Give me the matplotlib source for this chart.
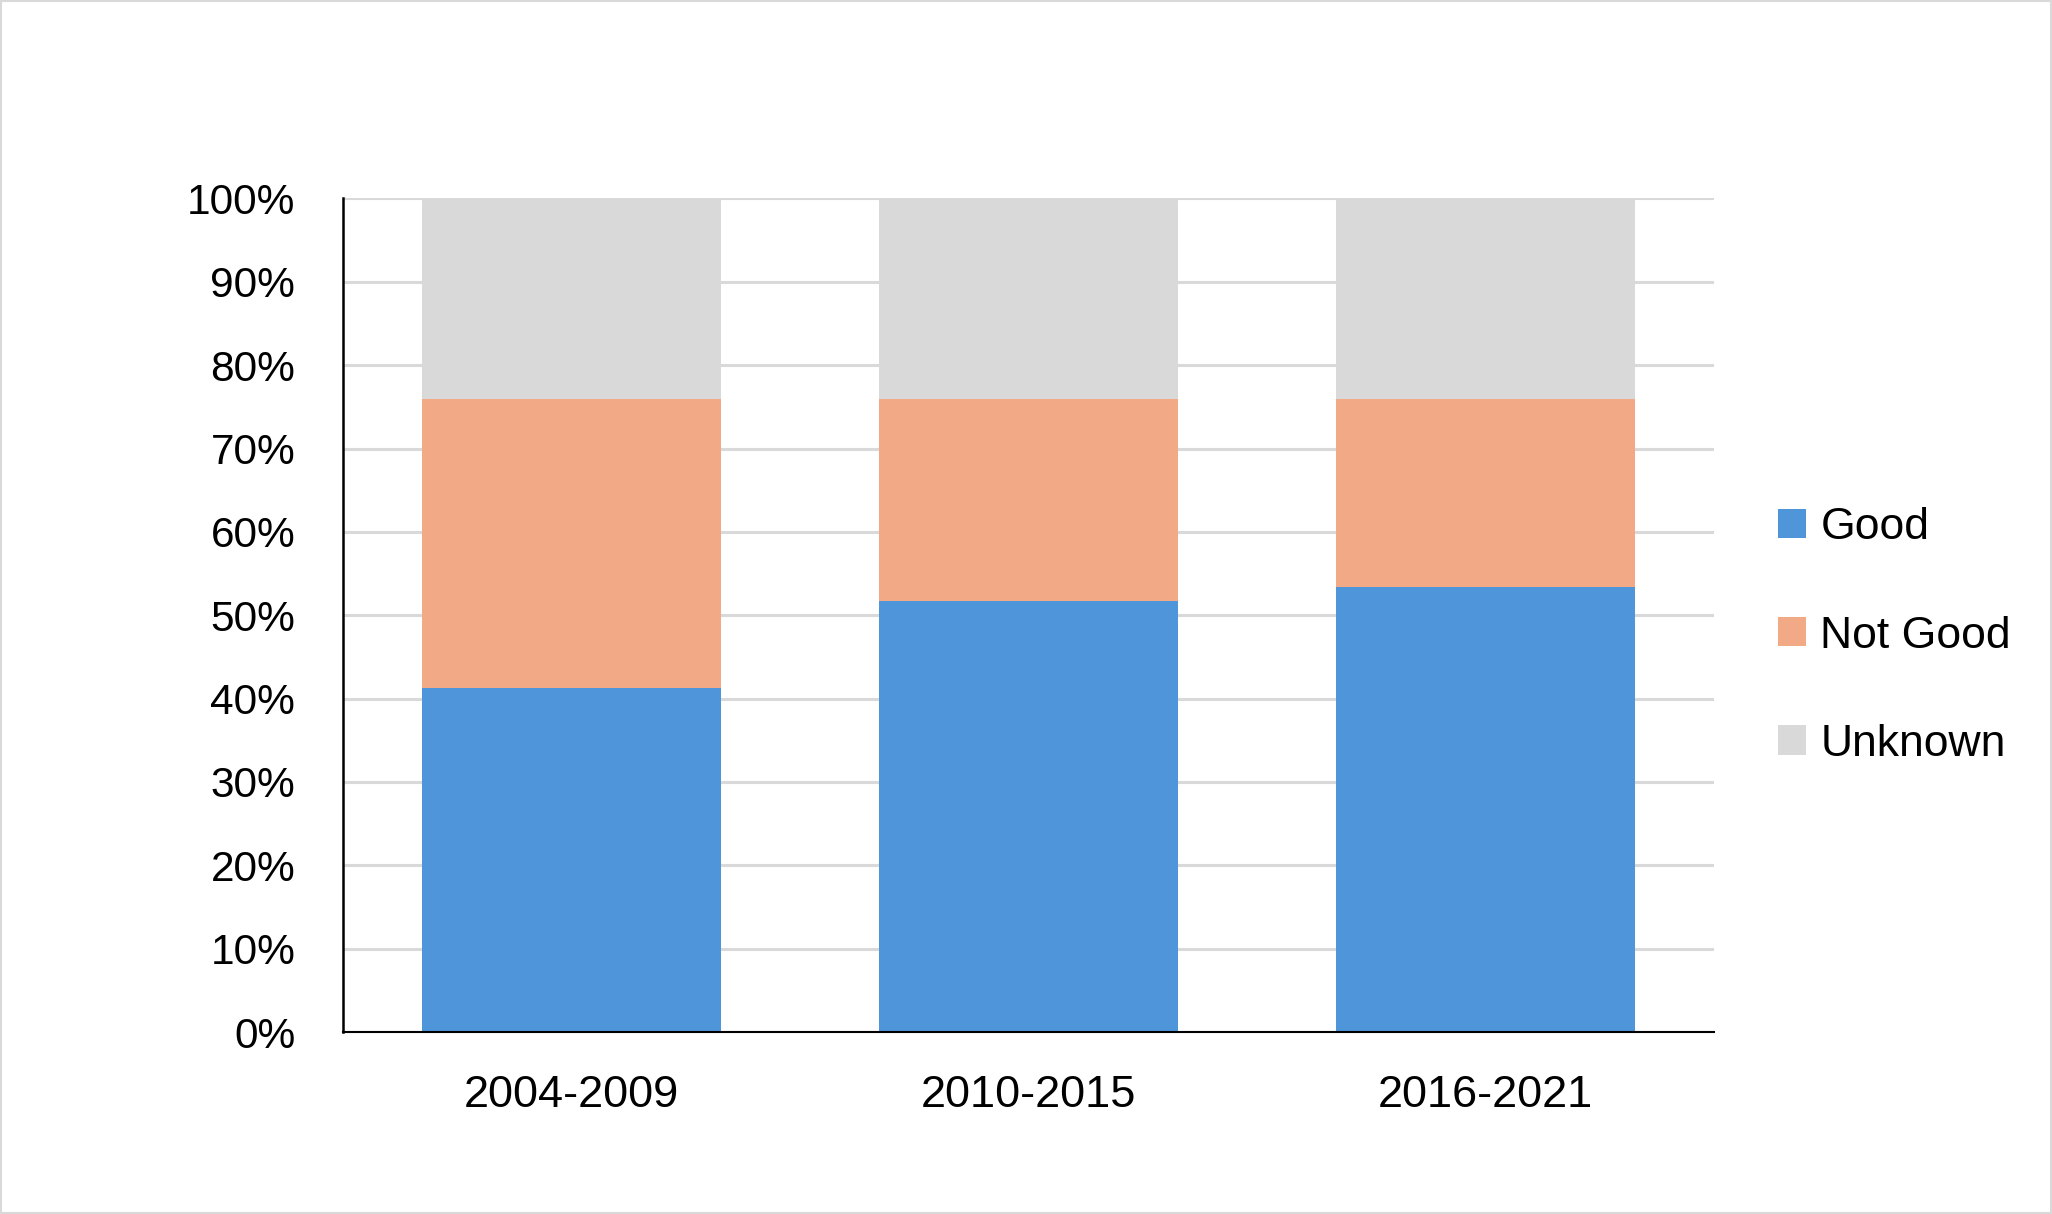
import matplotlib
matplotlib.use("Agg")
import matplotlib.pyplot as plt
from matplotlib.patches import Rectangle
from matplotlib.ticker import PercentFormatter

categories = ["2004-2009", "2010-2015", "2016-2021"]
good = [41.3, 51.7, 53.4]
not_good = [34.6, 24.2, 22.5]
unknown = [24.1, 24.1, 24.1]
series_names = ["Good", "Not Good", "Unknown"]
colors = ["#4F95D9", "#F1AA85", "#D9D9D9"]

plt.rcParams['font.family'] = ['Liberation Sans', 'DejaVu Sans']

fig = plt.figure(figsize=(20.52, 12.14), dpi=100)
ax = fig.add_axes([0.1672, 0.1499, 0.8353 - 0.1672, 0.8365 - 0.1499])

x = list(range(len(categories)))
w = 0.655
bottoms = [0] * 3
handles = []
for vals, name, c in zip([good, not_good, unknown], series_names, colors):
    b = ax.bar(x, vals, w, bottom=bottoms, color=c, label=name, zorder=3)
    handles.append(b)
    bottoms = [bb + v for bb, v in zip(bottoms, vals)]

ax.set_xlim(-0.5, 2.5)
ax.set_ylim(0, 100)
ax.set_yticks(range(0, 101, 10))
ax.yaxis.set_major_formatter(PercentFormatter(decimals=0))
ax.set_xticks(x)
ax.set_xticklabels(categories)
ax.tick_params(axis='both', length=0)
ax.tick_params(axis='y', pad=34.5, labelsize=30.5)
ax.tick_params(axis='x', pad=31, labelsize=32.5)
ax.grid(axis='y', color='#D9D9D9', linewidth=2.2, zorder=0)
ax.set_axisbelow(True)
for s in ['top', 'right']:
    ax.spines[s].set_visible(False)
ax.spines['left'].set_color('black')
ax.spines['left'].set_linewidth(1.8)
ax.spines['bottom'].set_color('black')
ax.spines['bottom'].set_linewidth(1.5)
ax.spines['left'].set_zorder(5)
ax.spines['bottom'].set_zorder(5)

leg = fig.legend(handles=handles, labels=series_names, loc='center left',
                 bbox_to_anchor=(0.8665, 0.4761), frameon=False, fontsize=32,
                 handlelength=0.63, handleheight=0.63, handletextpad=0.32,
                 labelspacing=1.51, borderaxespad=0, borderpad=0)

fig.patches.append(Rectangle((0.0005, 0.0008), 0.999, 0.9984, transform=fig.transFigure,
                             fill=False, edgecolor='#D9D9D9', linewidth=1.5))

fig.savefig("out.png", dpi=100)
